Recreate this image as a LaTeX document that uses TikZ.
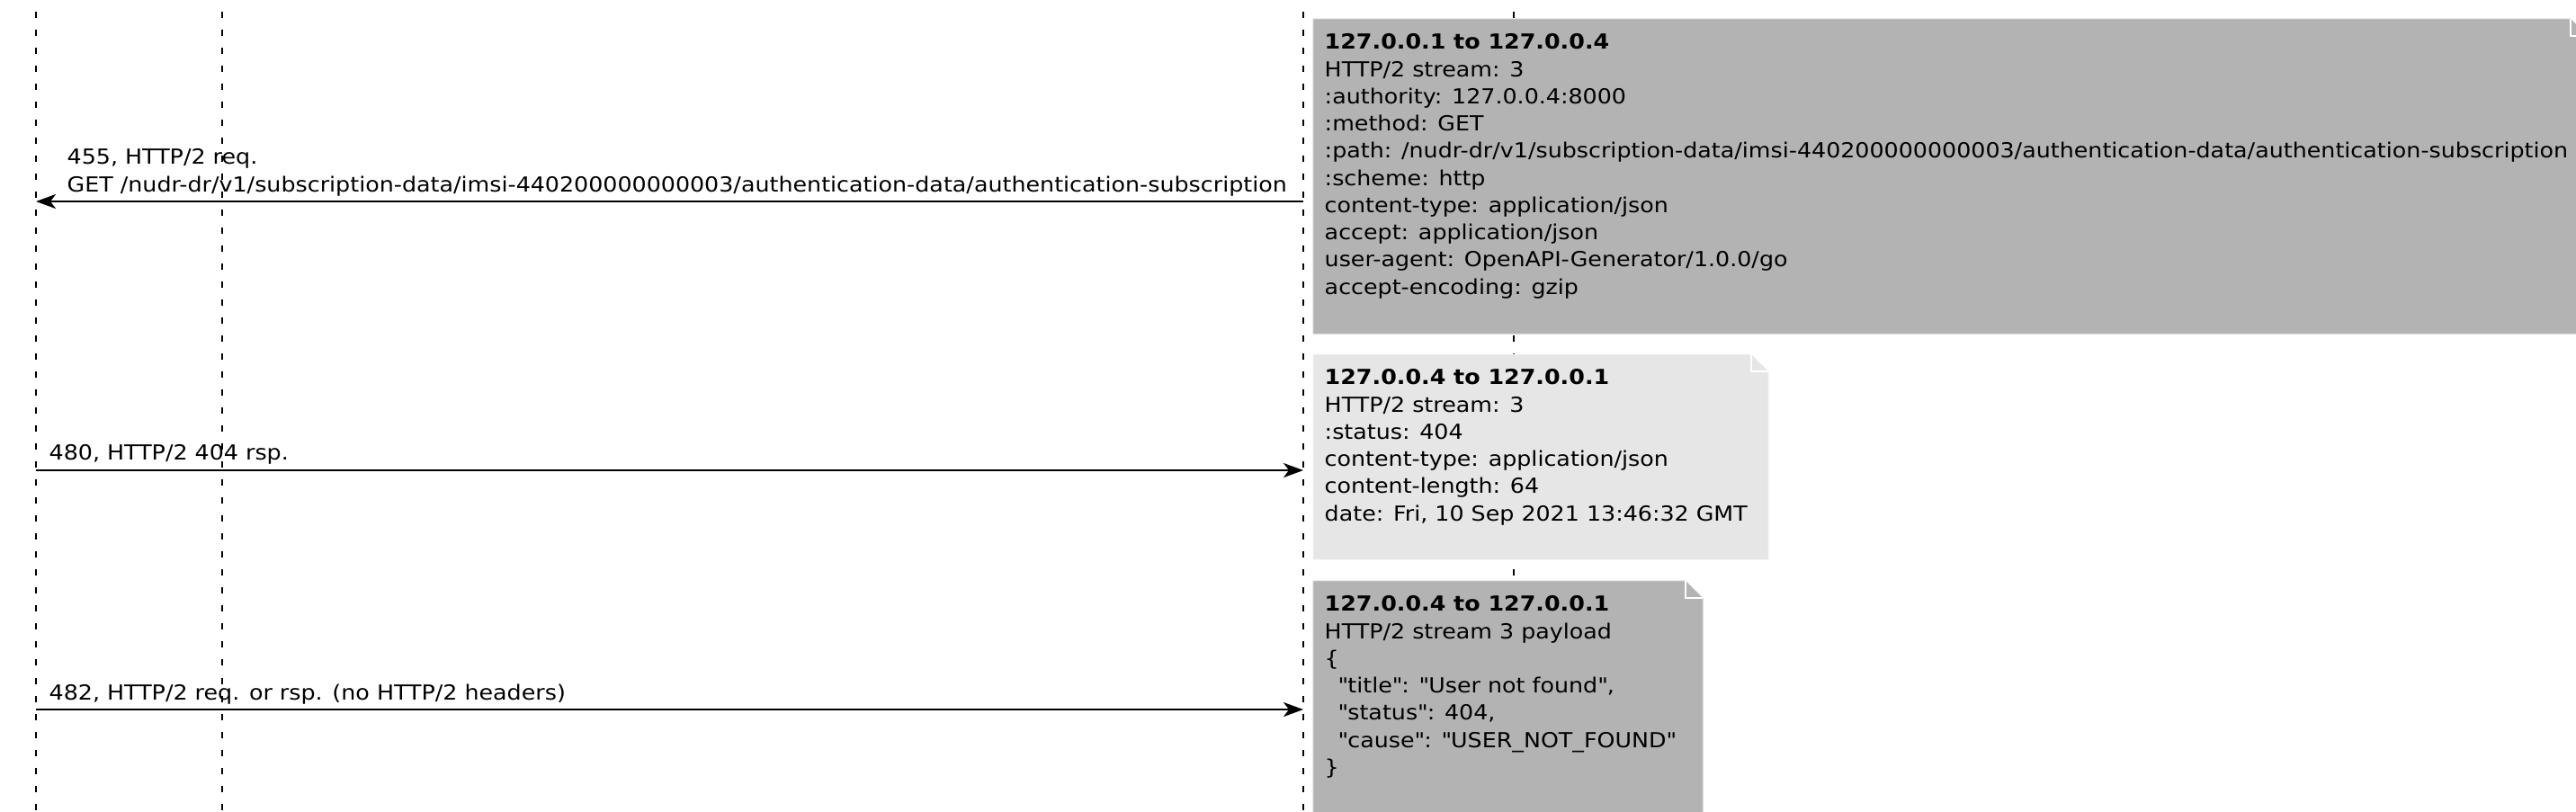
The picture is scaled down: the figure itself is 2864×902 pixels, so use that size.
\documentclass[tikz,border=0pt]{standalone}
\usepackage{fontspec}
\setmainfont{DejaVu Sans}[FakeStretch=1.1]
\usetikzlibrary{arrows.meta}

\definecolor{notedark}{RGB}{179,179,179}
\definecolor{notelight}{RGB}{230,230,230}

\begin{document}
\begin{tikzpicture}[x=0.01cm, y=-0.01cm,
    lifeline/.style={line width=0.02cm, dash pattern=on 0.07cm off 0.13cm, dash phase=0.07cm},
    msg/.style={line width=0.025cm, -{Stealth[length=0.22cm, width=0.16cm, inset=0.06cm]}},
    msglabel/.style={anchor=base west, inner sep=0pt, align=left, font=\fontsize{6.55pt}{8.6pt}\selectfont},
    notetext/.style={anchor=north west, inner sep=0pt, align=left, font=\fontsize{6.55pt}{8.6pt}\selectfont},
    fold/.style={draw=white, line width=0.015cm}]
  \clip (0,0) rectangle (2864,902);

  % Lifelines
  \foreach \name/\x in {A/40, B/247, C/1449, D/1683} {
    \coordinate (\name-top) at (\x,0);
    \coordinate (\name-bot) at (\x,902);
    \draw[lifeline] (\name-top) -- (\name-bot);
  }

  % Notes
  \path[fill=notedark, draw=notedark!70!white, line width=0.01cm]
    (1460,21) -- (2858,21) -- (2877,40) -- (2877,371) -- (1460,371) -- cycle;
  \draw[fold] (2858,21) -- (2858,40) -- (2877,40);
  \path[fill=notelight, draw=notelight!50!white, line width=0.01cm]
    (1460,394) -- (1947,394) -- (1966,413) -- (1966,622) -- (1460,622) -- cycle;
  \draw[fold] (1947,394) -- (1947,413) -- (1966,413);
  \path[fill=notedark, draw=notedark!70!white, line width=0.01cm]
    (1460,646) -- (1874,646) -- (1893,665) -- (1893,912) -- (1460,912) -- cycle;
  \draw[fold] (1874,646) -- (1874,665) -- (1893,665);

  \node[notetext] (req) at (1472,37) {\textbf{127.0.0.1 to 127.0.0.4}\\
    HTTP/2 stream: 3\\
    :authority: 127.0.0.4:8000\\
    :method: GET\\
    :path: /nudr-dr/v1/subscription-data/imsi-440200000000003/authentication-data/authentication-subscription\\
    :scheme: http\\
    content-type: application/json\\
    accept: application/json\\
    user-agent: OpenAPI-Generator/1.0.0/go\\
    accept-encoding: gzip};
  \node[notetext] (rsp) at (1472,410) {\textbf{127.0.0.4 to 127.0.0.1}\\
    HTTP/2 stream: 3\\
    :status: 404\\
    content-type: application/json\\
    content-length: 64\\
    date: Fri, 10 Sep 2021 13:46:32 GMT};
  \node[notetext] (payload) at (1472,662) {\textbf{127.0.0.4 to 127.0.0.1}\\
    HTTP/2 stream 3 payload\\
    \{\\
    \hspace*{0.15cm}\textquotedbl title\textquotedbl: \textquotedbl User not found\textquotedbl,\\
    \hspace*{0.15cm}\textquotedbl status\textquotedbl: 404,\\
    \hspace*{0.15cm}\textquotedbl cause\textquotedbl: \textquotedbl USER\_NOT\_FOUND\textquotedbl\\
    \}};

  % Messages
  \coordinate (A455) at (40,224);
  \coordinate (C455) at (1449,224);
  \coordinate (A480) at (40,523);
  \coordinate (C480) at (1449,523);
  \coordinate (A482) at (40,789);
  \coordinate (C482) at (1449,789);

  \draw[msg] (C455) -- (A455);
  \draw[msg] (A480) -- (C480);
  \draw[msg] (A482) -- (C482);

  \node[msglabel] (m455) at (74,213) {455, HTTP/2 req.\\
    GET /nudr-dr/v1/subscription-data/imsi-440200000000003/authentication-data/authentication-subscription};
  \node[msglabel] (m480) at (54,511) {480, HTTP/2 404 rsp.};
  \node[msglabel] (m482) at (54,778) {482, HTTP/2 req. or rsp. (no HTTP/2 headers)};
\end{tikzpicture}
\end{document}
